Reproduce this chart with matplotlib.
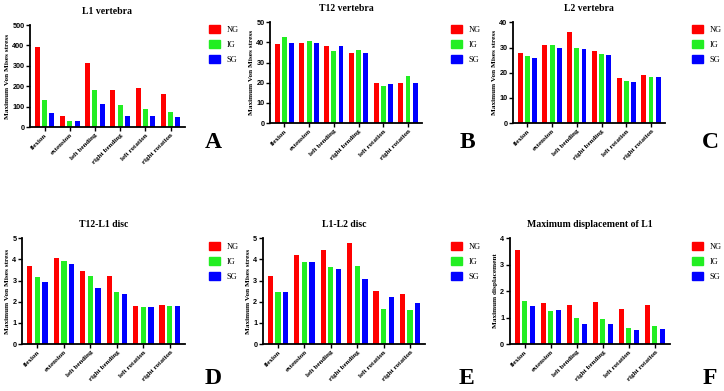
import matplotlib
matplotlib.use("Agg")
import matplotlib.pyplot as plt
import numpy as np
from matplotlib.patches import Patch

# categories and groups
motions = ["flexion", "extension", "left bending", "right bending", "left rotation", "right rotation"]
groups = ["NG", "IG", "SG"]
colors = ["#ff0000", "#22ee22", "#0000ff"]

# values (NG, IG, SG per motion)
l1_ng = [390, 52, 315, 182, 189, 161]
l1_ig = [134, 30, 184, 110, 87, 75]
l1_sg = [69, 30, 115, 54, 56, 49]

t12_ng = [39.0, 39.5, 38.0, 35.0, 20.0, 19.8]
t12_ig = [42.5, 40.5, 36.0, 36.3, 18.5, 23.5]
t12_sg = [39.5, 39.5, 38.0, 34.7, 19.2, 20.0]

l2_ng = [28.0, 30.8, 36.0, 28.6, 17.8, 19.1]
l2_ig = [26.5, 31.0, 29.8, 27.4, 16.8, 18.4]
l2_sg = [26.0, 30.0, 29.3, 27.0, 16.5, 18.5]

t12l1_ng = [3.68, 4.05, 3.45, 3.22, 1.80, 1.85]
t12l1_ig = [3.15, 3.90, 3.22, 2.45, 1.75, 1.80]
t12l1_sg = [2.92, 3.80, 2.65, 2.36, 1.75, 1.80]

l1l2_ng = [3.20, 4.22, 4.45, 4.75, 2.52, 2.35]
l1l2_ig = [2.47, 3.88, 3.62, 3.68, 1.65, 1.60]
l1l2_sg = [2.47, 3.87, 3.52, 3.06, 2.22, 1.93]

disp_ng = [3.57, 1.55, 1.48, 1.60, 1.32, 1.47]
disp_ig = [1.63, 1.25, 0.98, 0.93, 0.60, 0.68]
disp_sg = [1.45, 1.27, 0.75, 0.76, 0.53, 0.57]

serif = "Liberation Serif"
sans = "Liberation Sans"

fig = plt.figure(figsize=(7.24, 3.91), dpi=100)

# panel: (title, ylabel, data, yticks, axes rect, legend pos, letter pos)
panels = [
    ("L1 vertebra", "Maximum Von Mises stress", [l1_ng, l1_ig, l1_sg], np.arange(0, 501, 100),
     [0.0414, 0.675, 0.214, 0.261], (0.278, 0.955), (0.294, 0.622), "A"),
    ("T12 vertebra", "Maximum Von Mises stress", [t12_ng, t12_ig, t12_sg], np.arange(0, 51, 10),
     [0.373, 0.685, 0.21, 0.258], (0.612, 0.955), (0.645, 0.622), "B"),
    ("L2 vertebra", "Maximum Von Mises stress", [l2_ng, l2_ig, l2_sg], np.arange(0, 41, 10),
     [0.7086, 0.685, 0.21, 0.258], (0.945, 0.955), (0.981, 0.622), "C"),
    ("T12-L1 disc", "Maximum Von Mises stress", [t12l1_ng, t12l1_ig, t12l1_sg], np.arange(0, 6, 1),
     [0.0304, 0.120, 0.225, 0.271], (0.278, 0.40), (0.294, 0.017), "D"),
    ("L1-L2 disc", "Maximum Von Mises stress", [l1l2_ng, l1l2_ig, l1l2_sg], np.arange(0, 6, 1),
     [0.363, 0.120, 0.224, 0.271], (0.612, 0.40), (0.645, 0.017), "E"),
    ("Maximum displacement of L1", "Maximum displacement", [disp_ng, disp_ig, disp_sg], np.arange(0, 5, 1),
     [0.704, 0.120, 0.221, 0.271], (0.945, 0.40), (0.981, 0.017), "F"),
]

x = np.arange(len(motions))
w = 0.2
step = 0.29

for title, ylab, data, yt, rect, legpos, letpos, letter in panels:
    ax = fig.add_axes(rect)
    for i, vals in enumerate(data):
        ax.bar(x + (i - 1) * step, vals, width=w, color=colors[i], label=groups[i])
    ax.set_xlim(-0.58, 5.57)
    ax.set_ylim(0, yt[-1])
    ax.set_yticks(yt)
    ax.set_xticks(x)
    ax.set_xticklabels(motions, rotation=45, ha="right", rotation_mode="anchor",
                       fontfamily=serif, fontweight="bold", fontsize=5)
    for lab in ax.get_yticklabels():
        lab.set_fontfamily(sans)
        lab.set_fontweight("bold")
        lab.set_fontsize(5.2)
    ax.spines["top"].set_visible(False)
    ax.spines["right"].set_visible(False)
    ax.spines["left"].set_linewidth(1.3)
    ax.spines["bottom"].set_linewidth(1.3)
    ax.tick_params(axis="both", direction="out", length=3, width=1, pad=1)
    ax.set_ylabel(ylab, fontfamily=serif, fontweight="bold", fontsize=5.2, labelpad=1.5)
    ax.set_title(title, fontfamily=serif, fontweight="bold", fontsize=7, pad=8)

    handles = [Patch(color=c) for c in colors]
    ax.legend(handles, groups, loc="upper left", bbox_to_anchor=legpos,
              bbox_transform=fig.transFigure, frameon=False,
              prop={"family": serif, "size": 6}, handlelength=1.35, handleheight=1.1,
              labelspacing=0.75, handletextpad=0.8)

    fig.text(letpos[0], letpos[1], letter, fontfamily=serif, fontweight="bold",
             fontsize=17, ha="center")

plt.savefig("out.png", dpi=100)
